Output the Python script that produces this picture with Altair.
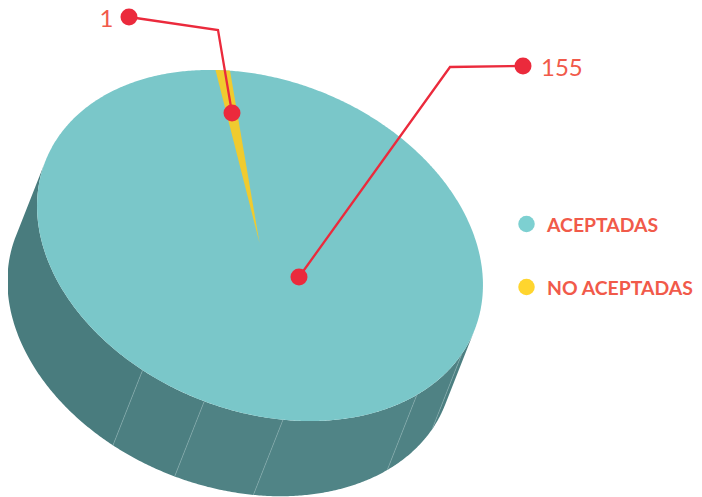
import math
import altair as alt

# values shown on the chart
categories = ["ACEPTADAS", "NO ACEPTADAS"]
values = [155, 1]
value_labels = ["155", "1"]

# pie geometry (page pixels)
center_x, center_y = 260, 245.5
apex_x, apex_y = 259.5, 243
semi_major, semi_minor = 230.6, 165.4
tilt_deg = 21.5
depth = 80.8

# yellow slice as drawn, in degrees around the ellipse
slice_start, slice_end = 242.7, 246.5

# side band boundaries, degrees around the ellipse, and their shades
side_breaks = [0, 9.4, 29.5, 68.3, 88.7, 106, 180]
side_shades = ["#4c7f81", "#4f8284", "#508486", "#4f8284", "#4c7f81", "#497c7e"]
divider_breaks = [9.4, 29.5, 68.3, 88.7, 106]

top_teal = "#7ac7c9"
slice_yellow = "#f0cb2f"
legend_colors = ["#7dd0d1", "#ffd52e"]
leader_red = "#eb2a3c"
text_red = "#f15a4a"

# leader lines and labels
leader_x = [[299, 450, 523], [232, 218, 129]]
leader_y = [[277, 67, 66], [113, 30, 17]]
label_x = [541, 113.5]
label_y = [69, 19.5]
legend_x = 526.5
legend_text_x = 547
legend_y = [225.5, 288.5]
legend_dot_y = [224, 287]

th = math.radians(tilt_deg)
ux, uy = math.cos(th), math.sin(th)
vx, vy = -math.sin(th), math.cos(th)


def rim(deg, drop=0.0):
    t = math.radians(deg)
    p = semi_major * math.cos(t)
    q = semi_minor * math.sin(t) + drop
    return [center_x + p * ux + q * vx, center_y + p * uy + q * vy]


def sweep(a, b, n=None):
    n = n or max(2, int(abs(b - a) * 2))
    return [a + (b - a) * i / n for i in range(n + 1)]


def poly(points, fill):
    return {
        "type": "Feature",
        "geometry": {"type": "Polygon", "coordinates": [points + [points[0]]]},
        "properties": {"fill": fill},
    }


features = []
for a, b, shade in zip(side_breaks[:-1], side_breaks[1:], side_shades):
    top_edge = [rim(d) for d in sweep(a, b)]
    low_edge = [rim(d, depth) for d in sweep(b, a)]
    features.append(poly(top_edge + low_edge, shade))
features.append(poly([rim(d) for d in sweep(0, 360, 720)], top_teal))
features.append(
    poly([[apex_x, apex_y]] + [rim(d) for d in sweep(slice_start, slice_end, 12)], slice_yellow)
)

x_scale = alt.Scale(domain=[8, 694], range=[0, 686], nice=False, zero=False)
y_scale = alt.Scale(domain=[8, 497], range=[0, 489], nice=False, zero=False)
X = lambda f: alt.X(f, scale=x_scale, axis=None)
Y = lambda f: alt.Y(f, scale=y_scale, axis=None)

pie = (
    alt.Chart(alt.Data(values=features))
    .mark_geoshape(strokeWidth=0)
    .encode(fill=alt.Fill("properties.fill:N", scale=None))
    .project(type="identity", scale=1, translate=[-8, -8])
)

divider_rows = []
for i, d in enumerate(divider_breaks):
    for drop in (0, depth):
        px, py = rim(d, drop)
        divider_rows.append({"k": i, "x": px, "y": py, "o": drop})
dividers = (
    alt.Chart(alt.Data(values=divider_rows))
    .mark_line(color="#7fa8a9", strokeWidth=0.7)
    .encode(x=X("x:Q"), y=Y("y:Q"), detail="k:N", order="o:Q")
)

leader_rows = []
dot_rows = []
for i, (xs, ys) in enumerate(zip(leader_x, leader_y)):
    for j, (px, py) in enumerate(zip(xs, ys)):
        leader_rows.append({"k": categories[i], "x": px, "y": py, "o": j})
    dot_rows.append({"x": xs[0], "y": ys[0]})
    dot_rows.append({"x": xs[-1], "y": ys[-1]})
leaders = (
    alt.Chart(alt.Data(values=leader_rows))
    .mark_line(color=leader_red, strokeWidth=2.3)
    .encode(x=X("x:Q"), y=Y("y:Q"), detail="k:N", order="o:Q")
)
dots = (
    alt.Chart(alt.Data(values=dot_rows))
    .mark_point(filled=True, opacity=1, size=289, color=leader_red, shape="circle", strokeWidth=0)
    .encode(x=X("x:Q"), y=Y("y:Q"))
)

value_text = (
    alt.Chart(alt.Data(values=[{"t": value_labels[0], "x": label_x[0], "y": label_y[0]}]))
    .mark_text(font="Lato", fontSize=24, color=text_red, align="left", baseline="middle")
    .encode(x=X("x:Q"), y=Y("y:Q"), text="t:N")
    + alt.Chart(alt.Data(values=[{"t": value_labels[1], "x": label_x[1], "y": label_y[1]}]))
    .mark_text(font="Lato", fontSize=24, color=text_red, align="right", baseline="middle")
    .encode(x=X("x:Q"), y=Y("y:Q"), text="t:N")
)

legend_rows = [
    {"c": c, "col": col, "x": legend_x, "tx": legend_text_x, "y": y, "dy": dy}
    for c, col, y, dy in zip(categories, legend_colors, legend_y, legend_dot_y)
]
legend_dots = (
    alt.Chart(alt.Data(values=legend_rows))
    .mark_point(filled=True, opacity=1, size=272, shape="circle", strokeWidth=0)
    .encode(x=X("x:Q"), y=Y("dy:Q"), fill=alt.Fill("col:N", scale=None))
)
legend_text = (
    alt.Chart(alt.Data(values=legend_rows))
    .mark_text(font="Lato", fontSize=19.4, fontWeight="bold", color=text_red, align="left", baseline="middle")
    .encode(x=X("tx:Q"), y=Y("y:Q"), text="c:N")
)

chart = (
    alt.layer(pie, dividers, leaders, dots, value_text, legend_dots, legend_text)
    .properties(width=686, height=489, padding=0, autosize=alt.AutoSizeParams(type="none"))
    .configure_view(stroke=None)
)
chart.save("out.html", embed_options={"renderer": "svg", "actions": False})
